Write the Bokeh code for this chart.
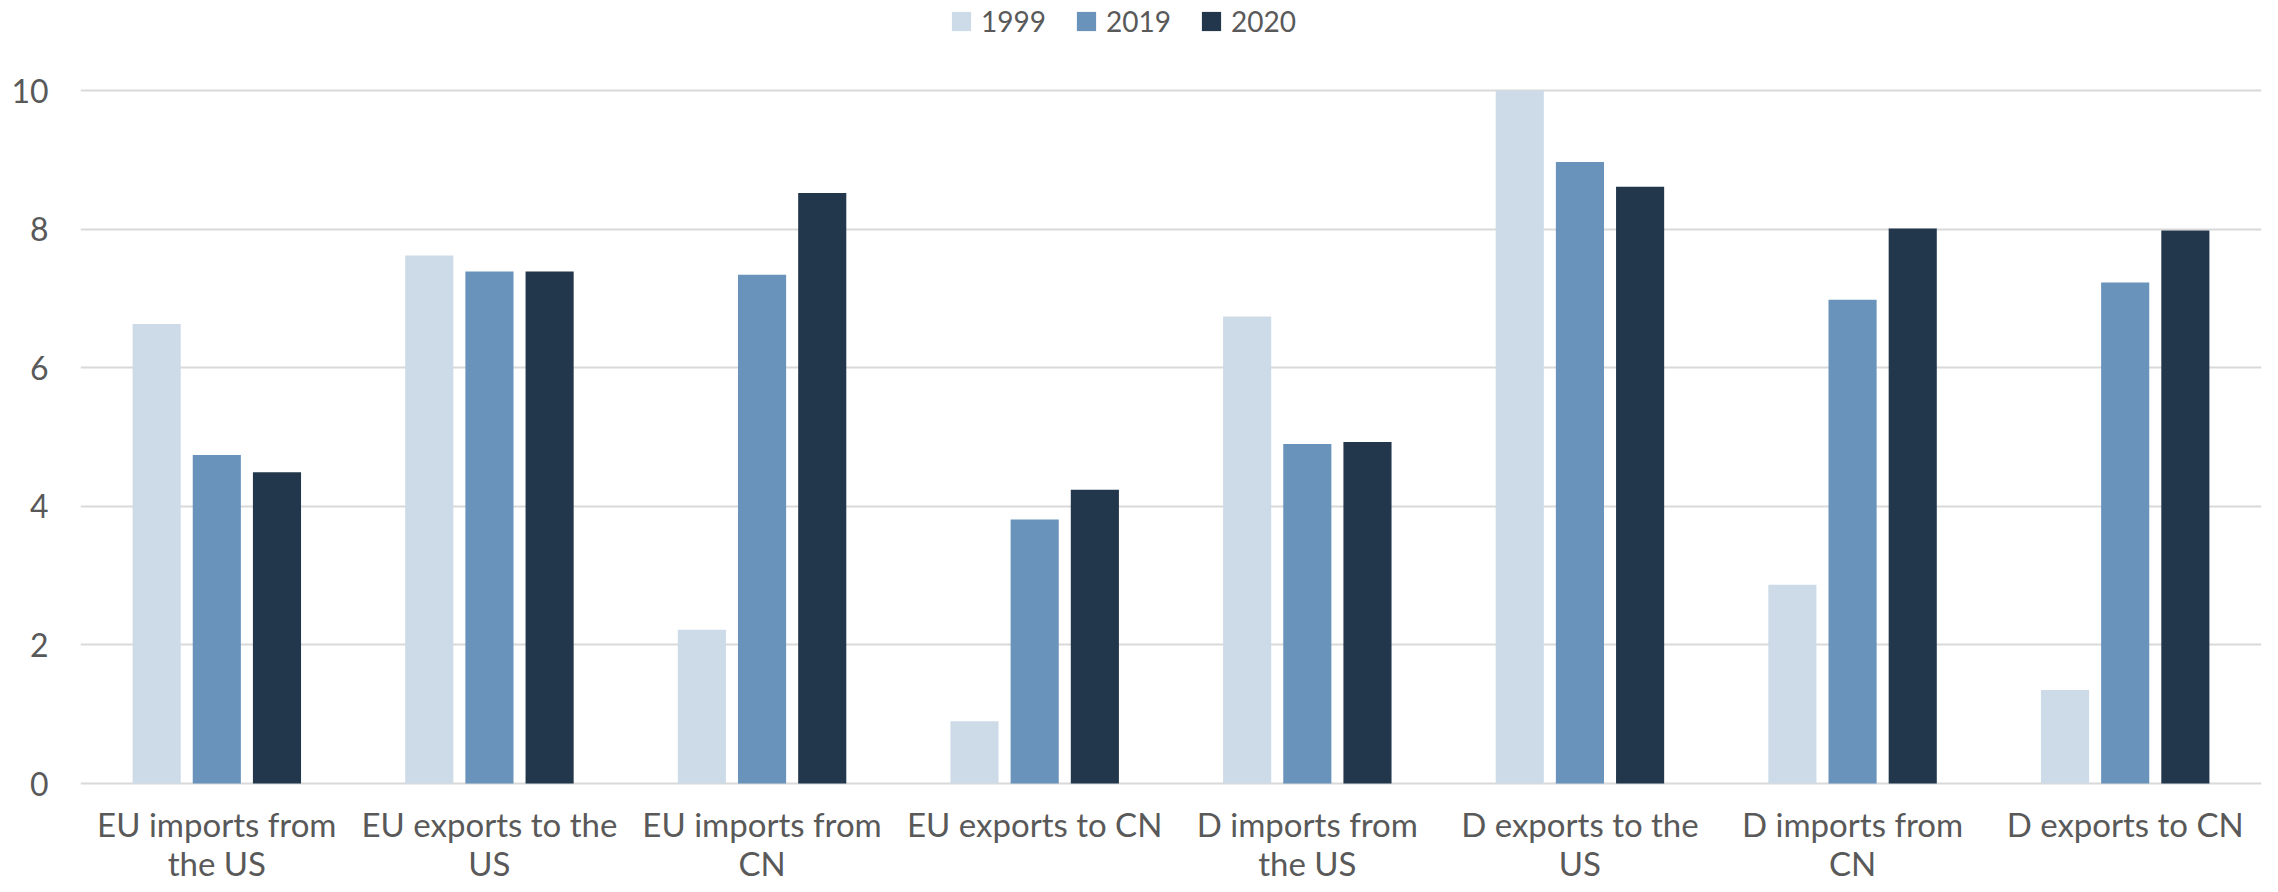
from bokeh.plotting import figure
from bokeh.models import (ColumnDataSource, FactorRange, Range1d, FixedTicker, Legend,
                          LegendItem, LabelSet)
from bokeh.core.properties import value
from bokeh.transform import dodge
from bokeh.embed import file_html
from bokeh.resources import INLINE

categories = ["EU imports from the US", "EU exports to the US", "EU imports from CN",
              "EU exports to CN", "D imports from the US", "D exports to the US",
              "D imports from CN", "D exports to CN"]
tick_labels = ["EU imports from\nthe US", "EU exports to the\nUS", "EU imports from\nCN",
               "EU exports to CN", "D imports from\nthe US", "D exports to the\nUS",
               "D imports from\nCN", "D exports to CN"]
years = ["1999", "2019", "2020"]
v1999 = [6.63, 7.62, 2.22, 0.90, 6.74, 10.0, 2.87, 1.35]
v2019 = [4.74, 7.39, 7.34, 3.81, 4.90, 8.97, 6.98, 7.23]
v2020 = [4.49, 7.39, 8.52, 4.24, 4.93, 8.61, 8.01, 7.98]
y_ticks = [0, 2, 4, 6, 8, 10]

colors = ["#cddbe8", "#6993bb", "#22374b"]
FONT = "Lato"
LABEL_COLOR = "#595959"
GRID = "#d9d9d9"

source = ColumnDataSource(data=dict(cat=categories, y1999=v1999, y2019=v2019, y2020=v2020))

line1 = [t.split("\n")[0] for t in tick_labels]
line2 = [t.split("\n")[1] if "\n" in t else "" for t in tick_labels]
lab_src1 = ColumnDataSource(data=dict(cat=categories, text=line1, y=[-0.59] * len(categories)))
lab_src2 = ColumnDataSource(data=dict(cat=categories, text=line2, y=[-1.14] * len(categories)))

p = figure(x_range=FactorRange(*categories, range_padding=0),
           y_range=Range1d(-1.457, 11.299),
           width=2262, height=884, output_backend="svg", toolbar_location=None,
           min_border_left=80, min_border_right=1, min_border_top=0, min_border_bottom=0)

renderers = []
for off, col, key in zip([-0.2207, 0.0, 0.2207], colors, ["y1999", "y2019", "y2020"]):
    r = p.vbar(x=dodge("cat", off, range=p.x_range), top=key, bottom=0, width=0.1765,
               source=source, fill_color=col, line_color=None)
    renderers.append(r)

p.outline_line_color = None
p.xgrid.grid_line_color = None
p.ygrid.grid_line_color = GRID
p.ygrid.grid_line_width = 2
p.ygrid.ticker = FixedTicker(ticks=y_ticks)
p.background_fill_color = "white"
p.border_fill_color = "white"

p.yaxis.ticker = FixedTicker(ticks=y_ticks)
p.yaxis.axis_line_color = None
p.yaxis.major_tick_line_color = None
p.yaxis.minor_tick_line_color = None
p.yaxis.major_label_text_font = FONT
p.yaxis.major_label_text_font_size = "32px"
p.yaxis.major_label_text_color = LABEL_COLOR
p.yaxis.major_label_standoff = 26

p.xaxis.visible = False

for src in (lab_src1, lab_src2):
    ls = LabelSet(x="cat", y="y", text="text", source=src,
                  text_font=value(FONT), text_font_size=value("33px"),
                  text_color=value(LABEL_COLOR),
                  text_align="center", text_baseline="middle")
    p.add_layout(ls)

legend = Legend(items=[LegendItem(label=y, renderers=[r]) for y, r in zip(years, renderers)],
                orientation="horizontal", location=(869, 846),
                label_text_font=FONT, label_text_font_size="28px", label_text_color=LABEL_COLOR,
                glyph_width=24, glyph_height=24, label_standoff=8, spacing=28,
                label_height=26, padding=0, margin=0,
                border_line_color=None, background_fill_alpha=0)
p.add_layout(legend, "center")

open("out.html", "w").write(file_html(p, INLINE))
